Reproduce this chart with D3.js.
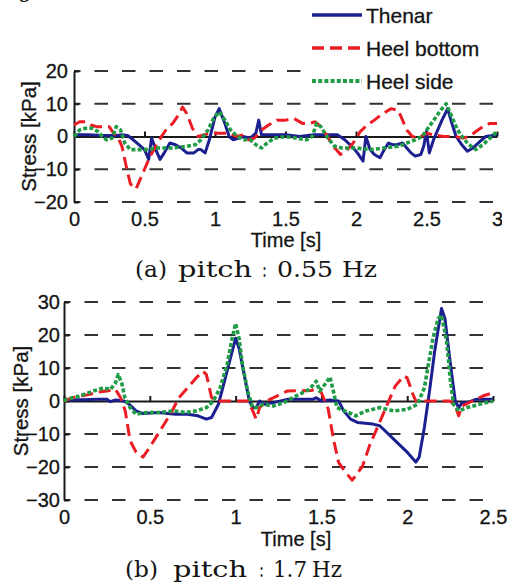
<!DOCTYPE html>
<html>
<head>
<meta charset="utf-8">
<script src="https://cdn.jsdelivr.net/npm/d3@7"></script>
<style>
  body { margin: 0; background: #fff; }
  svg { display: block; }
  text { font-family: "Liberation Sans", Arial, sans-serif; fill: #141414; stroke: #141414; stroke-width: 0.3px; }
  .caption { font-family: "DejaVu Serif", "Liberation Serif", serif; stroke-width: 0; }
</style>
</head>
<body>
<svg width="512" height="583"></svg>
<script>
// Series names
let seriesNames = ['Thenar', 'Heel bottom', 'Heel side'];

// (a) pitch 0.55 Hz  -  [time s, stress kPa]
let thenarA = [[0,0.5],[0.1,0.5],[0.2,0.3],[0.3,0.3],[0.35,0.5],[0.38,0.3],[0.42,-1],[0.46,-2.5],[0.5,-4],[0.53,-7],[0.55,-0.5],[0.58,-4],[0.61,-7],[0.64,-5],[0.68,-2],[0.72,-2.5],[0.76,-3.5],[0.8,-5],[0.85,-5],[0.88,-4],[0.9,-4],[0.93,-5],[0.96,-1],[1.0,6],[1.03,8.5],[1.07,4],[1.1,0],[1.13,-1],[1.17,-0.5],[1.2,0],[1.25,-0.5],[1.29,1],[1.31,5],[1.33,0.5],[1.4,0.5],[1.5,0.5],[1.6,0],[1.7,0.5],[1.8,0.5],[1.87,0.5],[1.92,-1],[1.97,-3],[2.01,-5],[2.05,-7.5],[2.07,0],[2.1,-4],[2.13,-5.5],[2.17,-6.5],[2.2,-4],[2.23,-2],[2.26,-2.5],[2.29,-2.5],[2.33,-2],[2.36,-3.5],[2.39,-5],[2.42,-6],[2.46,-5.5],[2.48,-3],[2.5,1.5],[2.52,-5],[2.55,-1],[2.58,2],[2.61,5],[2.65,8.5],[2.68,4],[2.71,0],[2.75,-2.5],[2.79,-4.5],[2.83,-3.5],[2.88,-1.5],[2.92,0],[3.0,0.5]];
let heelBottomA = [[0,3.5],[0.04,4.5],[0.08,4.5],[0.12,3.5],[0.16,3],[0.2,3],[0.25,3],[0.28,1],[0.31,0],[0.34,-3],[0.37,-9],[0.4,-14.5],[0.44,-16],[0.47,-13],[0.5,-10],[0.54,-6],[0.58,-3],[0.62,0],[0.66,2.5],[0.7,4],[0.74,6.5],[0.77,9],[0.8,7],[0.84,2.5],[0.88,0],[0.92,0.5],[0.97,1],[1.03,1],[1.1,1],[1.15,0],[1.2,0.5],[1.24,-1],[1.28,-0.5],[1.33,2],[1.38,3.5],[1.44,5],[1.5,5],[1.56,5.5],[1.62,4],[1.67,4],[1.71,4.5],[1.75,3],[1.79,0.5],[1.84,-3],[1.89,-5.5],[1.93,-4.5],[1.98,-2],[2.03,1.5],[2.08,3.5],[2.13,5],[2.19,7],[2.25,8.5],[2.3,8],[2.33,5],[2.36,2],[2.4,0],[2.44,-0.5],[2.5,1],[2.55,0.5],[2.62,0],[2.7,0],[2.76,-0.5],[2.8,0],[2.85,1.5],[2.9,3],[2.95,4],[3.0,4]];
let heelSideA = [[0,0],[0.04,2],[0.08,2.5],[0.13,2.5],[0.17,1.5],[0.2,0],[0.23,-1],[0.27,-0.5],[0.3,3],[0.33,2],[0.36,-2],[0.4,-4],[0.5,-4],[0.6,-3.5],[0.7,-3.5],[0.8,-3],[0.86,-2.5],[0.9,-1],[0.95,2],[0.99,5.5],[1.03,7.5],[1.07,5],[1.11,2],[1.16,0],[1.2,-1],[1.25,-1],[1.29,-2.5],[1.33,-3.5],[1.37,-2],[1.42,-0.5],[1.5,0],[1.58,-0.5],[1.65,-1],[1.69,0],[1.72,4],[1.75,3],[1.8,-0.5],[1.85,-3],[1.9,-3.5],[2.0,-3.5],[2.1,-4],[2.2,-3.5],[2.3,-3],[2.36,-2],[2.42,-1],[2.47,0],[2.51,2.5],[2.56,5.5],[2.6,8],[2.64,10],[2.68,6],[2.72,2],[2.76,-0.5],[2.8,-2.5],[2.85,-4],[2.9,-2.5],[2.95,-0.5],[3.0,1.5]];

// (b) pitch 1.7 Hz
let thenarB = [[0,0.3],[0.1,0.4],[0.2,0.5],[0.25,0.5],[0.27,-0.2],[0.3,0.3],[0.35,0],[0.38,-1],[0.42,-3],[0.46,-3.8],[0.55,-3.5],[0.65,-4],[0.72,-4],[0.78,-4.5],[0.83,-5.5],[0.86,-5],[0.9,-1],[0.93,5],[0.96,11],[1.0,19],[1.02,16],[1.05,8],[1.08,0],[1.1,-2],[1.12,-2],[1.14,0],[1.17,-1],[1.22,-0.5],[1.3,0.5],[1.45,0.5],[1.47,1],[1.5,0],[1.55,0.3],[1.6,0],[1.63,-3],[1.67,-5.5],[1.71,-6.5],[1.8,-7],[1.84,-7.5],[1.9,-10.5],[1.96,-13.5],[2.0,-15.5],[2.05,-18.5],[2.07,-17],[2.1,-8],[2.13,3],[2.16,15],[2.2,28],[2.22,25],[2.25,12],[2.28,0],[2.3,-2],[2.32,-0.5],[2.35,-0.5],[2.4,0.5],[2.5,0.5]];
let heelBottomB = [[0,0],[0.05,1],[0.1,1.5],[0.15,2],[0.2,2.7],[0.25,3],[0.3,3.5],[0.33,1],[0.357,-3],[0.385,-12],[0.42,-15.5],[0.46,-17],[0.5,-14],[0.56,-9],[0.62,-4],[0.67,1],[0.72,4],[0.77,7],[0.81,9],[0.83,8],[0.86,1],[0.9,0],[1.07,0],[1.1,-3],[1.12,-5.5],[1.14,-2],[1.18,0],[1.24,1.5],[1.3,3],[1.44,3.2],[1.47,3.6],[1.5,2.5],[1.54,-2.5],[1.57,-11.5],[1.6,-18.6],[1.64,-21.6],[1.68,-24],[1.74,-19.7],[1.78,-13.6],[1.83,-7.6],[1.88,-1.5],[1.93,4.5],[1.98,7.6],[2.0,7],[2.03,2.5],[2.05,0],[2.25,0],[2.28,-1.5],[2.3,-4.5],[2.32,-1.5],[2.38,0],[2.44,1.5],[2.5,2.5]];
let heelSideB = [[0,0],[0.015,0.5],[0.09,1.5],[0.17,3],[0.23,4],[0.27,3.5],[0.3,5.5],[0.316,8],[0.336,5.5],[0.355,1],[0.385,-2],[0.42,-4],[0.48,-3.5],[0.56,-3.5],[0.64,-3],[0.71,-3.5],[0.77,-3],[0.83,-2],[0.87,0],[0.91,4],[0.95,11],[0.98,19],[1.0,23.5],[1.02,19],[1.04,11],[1.07,3],[1.1,-2],[1.12,-2],[1.16,-1],[1.22,-1.5],[1.28,-0.5],[1.35,1.5],[1.43,3.5],[1.47,6],[1.49,3],[1.52,5],[1.55,7.3],[1.57,3],[1.59,-2],[1.66,-3.5],[1.7,-4.5],[1.76,-3],[1.84,-2],[1.92,-3],[2.0,-2.5],[2.06,-1],[2.1,4],[2.12,10],[2.15,19],[2.18,25],[2.2,26],[2.23,18],[2.25,7],[2.27,-1],[2.3,-3],[2.35,-2],[2.42,-1],[2.5,0]];

// Tick values
let xTicksA = [0, 0.5, 1, 1.5, 2, 2.5, 3];
let yTicksA = [-20, -10, 0, 10, 20];
let xTicksB = [0, 0.5, 1, 1.5, 2, 2.5];
let yTicksB = [-30, -20, -10, 0, 10, 20, 30];

// Caption words
let captionA = ['(a)', 'pitch', ':', '0.55', 'Hz'];
let captionB = ['(b)', 'pitch', ':', '1.7', 'Hz'];

let styles = [
  { color: '#1c1f8f', width: 3, dash: null },
  { color: '#ec1c24', width: 3, dash: '12,6' },
  { color: '#1f9c45', width: 3.6, dash: '4,2.2' }
];

let svg = d3.select('svg');

function drawPanel(p) {
  let x = d3.scaleLinear().domain(p.xDomain).range([p.left, p.right]);
  let y = d3.scaleLinear().domain(p.yDomain).range([p.bottom, p.top]);
  let g = svg.append('g');

  // dashed grid
  g.append('g')
    .selectAll('line')
    .data(p.yTicks.filter(d => d !== 0))
    .enter()
    .append('line')
    .attr('x1', p.left)
    .attr('x2', p.right)
    .attr('y1', d => y(d))
    .attr('y2', d => y(d))
    .attr('stroke', '#333')
    .attr('stroke-width', 2)
    .attr('stroke-dasharray', '13.5,14')
    .attr('stroke-dashoffset', 7);

  // Y axis
  g.append('g')
    .attr('transform', `translate(${p.left},0)`)
    .call(d3.axisLeft(y).tickValues(p.yTicks).tickSize(-5).tickSizeOuter(0).tickPadding(p.yPad))
    .call(a => a.selectAll('line, path').attr('stroke', '#1a1a1a').attr('stroke-width', 2))
    .call(a => a.selectAll('text').style('font-size', '20px').attr('fill', null));

  // zero line with ticks
  g.append('g')
    .attr('transform', `translate(0,${y(0)})`)
    .call(d3.axisBottom(x).tickValues(p.xTicks).tickSize(-5).tickSizeOuter(0).tickFormat(''))
    .call(a => a.selectAll('line, path').attr('stroke', '#1a1a1a').attr('stroke-width', 2));

  // x tick labels along the bottom
  g.append('g')
    .attr('transform', `translate(0,${p.bottom})`)
    .call(d3.axisBottom(x).tickValues(p.xTicks).tickSize(0).tickPadding(10).tickFormat(d3.format('')))
    .call(a => a.select('.domain').remove())
    .call(a => a.selectAll('text').style('font-size', '20px').attr('fill', null));

  // Lines
  let line = d3.line()
    .x(d => x(d[0]))
    .y(d => y(d[1]));

  p.series.forEach((s, i) => {
    g.append('path')
      .datum(s)
      .attr('d', line)
      .attr('fill', 'none')
      .attr('stroke', styles[i].color)
      .attr('stroke-width', styles[i].width)
      .attr('stroke-dasharray', styles[i].dash)
      .attr('stroke-linejoin', 'round');
  });

  // Axis titles
  g.append('text')
    .text('Time [s]')
    .attr('x', p.xLabelX)
    .attr('y', p.xLabelY)
    .attr('text-anchor', 'middle')
    .style('font-size', '20px');

  g.append('text')
    .text('Stress [kPa]')
    .attr('transform', `translate(${p.yLabelX},${(p.top + p.bottom) / 2}) rotate(-90)`)
    .attr('text-anchor', 'middle')
    .attr('dy', '0.35em')
    .style('font-size', '20.5px');

  // Caption, one stretched word at a time
  svg.append('text')
    .attr('class', 'caption')
    .attr('y', p.capY)
    .style('font-size', '23px')
    .selectAll('tspan')
    .data(p.caption)
    .enter()
    .append('tspan')
    .attr('x', (d, i) => p.capX[i])
    .attr('textLength', (d, i) => p.capW[i])
    .attr('lengthAdjust', 'spacingAndGlyphs')
    .text(d => d);
}

drawPanel({
  xDomain: [0, 3], yDomain: [-20, 20],
  left: 74, right: 497, top: 71, bottom: 202,
  xTicks: xTicksA, yTicks: yTicksA, yPad: 6,
  series: [thenarA, heelBottomA, heelSideA],
  xLabelX: 286, xLabelY: 247, yLabelX: 29,
  caption: captionA, capY: 277,
  capX: [135, 178, 262, 277, 342], capW: [32, 74, 5, 56, 35]
});

drawPanel({
  xDomain: [0, 2.5], yDomain: [-30, 30],
  left: 64, right: 493, top: 302, bottom: 500,
  xTicks: xTicksB, yTicks: yTicksB, yPad: 4,
  series: [thenarB, heelBottomB, heelSideB],
  xLabelX: 296, xLabelY: 546, yLabelX: 21,
  caption: captionB, capY: 577,
  capX: [125, 173, 259, 273, 312], capW: [33, 74, 5, 34, 30]
});

// top figure crops at its right side
svg.append('rect')
  .attr('x', 502)
  .attr('y', 205)
  .attr('width', 10)
  .attr('height', 30)
  .attr('fill', '#fff');

// fragment of the figure text above
svg.append('text')
  .attr('class', 'caption')
  .attr('x', 18)
  .attr('y', -3)
  .style('font-size', '22px')
  .text('g');

// Legend
let legend = svg.append('g');
legend.append('rect')
  .attr('x', 306)
  .attr('y', 0)
  .attr('width', 206)
  .attr('height', 95)
  .attr('fill', '#fff');

let legRows = legend.selectAll('g.row')
  .data(seriesNames)
  .enter()
  .append('g')
  .attr('class', 'row')
  .attr('transform', (d, i) => `translate(312,${[15, 48, 81][i]})`);

legRows.append('line')
  .attr('x1', 0)
  .attr('x2', 50)
  .attr('stroke', (d, i) => styles[i].color)
  .attr('stroke-width', (d, i) => styles[i].width + 0.5)
  .attr('stroke-dasharray', (d, i) => styles[i].dash);

legRows.append('text')
  .text(d => d)
  .attr('x', 54)
  .attr('dy', '0.36em')
  .style('font-size', '21px');
</script>
</body>
</html>
